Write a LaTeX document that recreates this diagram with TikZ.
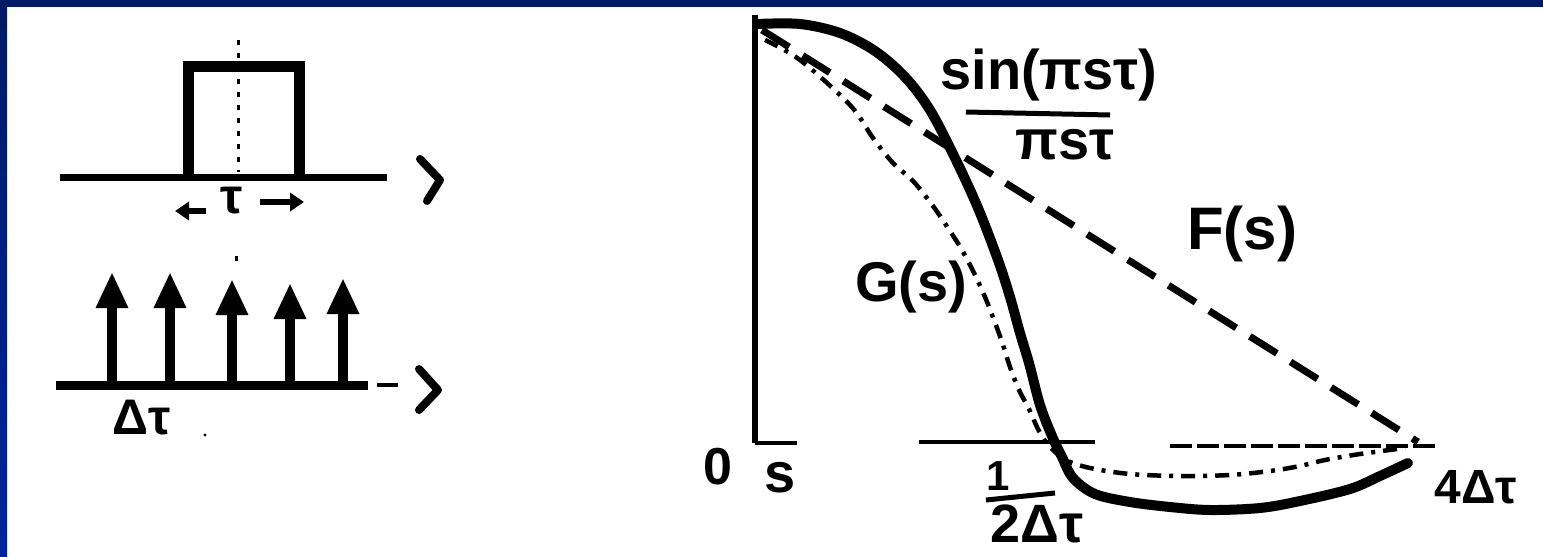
\documentclass[tikz,border=0pt]{standalone}
\usepackage{fontspec}
\setmainfont{Liberation Sans}
\usetikzlibrary{arrows.meta}
\definecolor{navy}{RGB}{0,26,100}
\definecolor{royal}{RGB}{0,36,160}
\tikzset{
  lab/.style={inner sep=0pt, font=\bfseries\fontsize{56}{60}\selectfont},
  axisline/.style={line width=7pt},
  chevron/.style={line width=8pt, line join=round, line cap=round},
  impulse/.style={line width=10pt, -{Triangle[width=30pt,length=36pt]}},
  dimarrow/.style={line width=6pt, -{Triangle[width=18pt,length=14pt]}},
  pulse/.style={line width=11pt, line join=miter},
  centremark/.style={line width=3pt, dash pattern=on 5pt off 8pt},
  sinc/.style={line width=10pt, line cap=round, line join=round},
  fcurve/.style={line width=7pt, dash pattern=on 32pt off 16pt},
  gcurve/.style={line width=4.5pt, dash pattern=on 14pt off 8pt on 4pt off 8pt},
  fracbar/.style={line width=5pt},
}
\begin{document}
\begin{tikzpicture}[x=1pt,y=-1pt]
\useasboundingbox (0,0) rectangle (1543,557);
% frame
\fill[white] (0,0) rectangle (1543,557);
\fill[navy] (0,0) rectangle (1543,7);
\shade[top color=navy, bottom color=royal] (0,0) rectangle (7,557);

% ---------- rectangular pulse ----------
\coordinate (ax1a) at (60,177);
\coordinate (ax1b) at (387,177);
\draw[axisline] (ax1a) -- (ax1b);
\draw[chevron] (420,159) -- (440,180) -- (427,201);
\draw[pulse] (188,177) -- (188,66) -- (299,66) -- (299,177);
\draw[centremark] (238,40) -- (238,172);
\node[lab, font=\bfseries\fontsize{50}{54}\selectfont] (taulab) at (232,201) {τ};
\coordinate (tauLs) at (206,211);
\coordinate (tauL) at (175,211);
\coordinate (tauRs) at (260,202);
\coordinate (tauR) at (304,202);
\draw[dimarrow] (tauLs) -- (tauL);
\draw[dimarrow] (tauRs) -- (tauR);

% ---------- impulse train ----------
\coordinate (ax2a) at (56,385);
\coordinate (ax2b) at (368,385);
\draw[line width=9pt] (ax2a) -- (ax2b);
\draw[line width=4pt] (377,385) -- (398,385);
\draw[chevron] (419,369) -- (438,390) -- (419,410);
\foreach \i/\x/\t in {1/112/272, 2/170/272, 3/232/279, 4/290/283, 5/343/278}{
  \coordinate (b\i) at (\x,383);
  \coordinate (t\i) at (\x,\t);
  \draw[impulse] (b\i) -- (t\i);
}
\draw[centremark] (236,256) -- (236,268);
\node[lab, font=\bfseries\fontsize{50}{54}\selectfont] (dtau) at (142,418) {Δτ};
\fill (205,435) circle (1.6pt);

% ---------- spectrum graph ----------
\coordinate (origin) at (755,443);
\coordinate (ytop) at (755,15);
\draw[line width=6pt] (origin) -- (ytop);
\draw[line width=4.5pt] (origin) -- (797,443);
\draw[line width=4.5pt] (919,442) -- (1095,442);
\draw[line width=4.5pt, dash pattern=on 22pt off 5pt] (1170,446) -- (1435,446);

% F(s): dashed
\coordinate (fstart) at (762,30);
\coordinate (fend) at (1418,442);
\draw[fcurve] (fstart) -- (fend);

% G(s): dash-dot
\draw[gcurve] plot[smooth, tension=0.55] coordinates {
 (765,40) (800,60) (850,105) (873,138) (893,163) (913,181) (933,206) (948,228)
 (962,250) (975,275) (985,297) (994,320) (1002,342) (1010,367) (1019,390)
 (1029,409) (1039,431) (1050,447) (1066,460) (1090,468) (1130,474) (1180,476)
 (1230,475) (1270,471) (1300,466) (1325,460) (1360,454) (1405,448)};

% sin(pi s tau)/(pi s tau): thick solid
\draw[sinc] plot[smooth, tension=0.55] coordinates {
 (757,24) (800,24) (840,33) (875,51) (905,77) (930,110) (955,158) (978,208)
 (998,260) (1010,297) (1020,333) (1029,363) (1040,405) (1052,436) (1062,457)
 (1073,478) (1095,494) (1130,502) (1170,507) (1210,510) (1260,508) (1300,501)
 (1350,489) (1380,476) (1408,463)};

% labels
\node[lab] (num) at (1049,75) {sin(πsτ)};
\coordinate (barL) at (966,112);
\coordinate (barR) at (1110,115);
\draw[fracbar] (barL) -- (barR);
\node[lab] (den) at (1065,145) {πsτ};
\node[lab, font=\bfseries\fontsize{60}{64}\selectfont] (Flab) at (1242,234) {F(s)};
\node[lab] (Glab) at (911,287) {G(s)};
\node[lab, font=\bfseries\fontsize{52}{56}\selectfont] (zero) at (718,467) {0};
\node[lab] (slab) at (780,478) {s};
\node[lab, font=\bfseries\fontsize{42}{46}\selectfont] (one) at (998,476) {1};
\coordinate (hbarL) at (986,500);
\coordinate (hbarR) at (1055,493);
\draw[fracbar] (hbarL) -- (hbarR);
\node[lab, font=\bfseries\fontsize{54}{58}\selectfont] (twodt) at (1037,524) {2Δτ};
\node[lab, font=\bfseries\fontsize{48}{52}\selectfont] (fourdt) at (1476,487) {4Δτ};
\end{tikzpicture}
\end{document}
